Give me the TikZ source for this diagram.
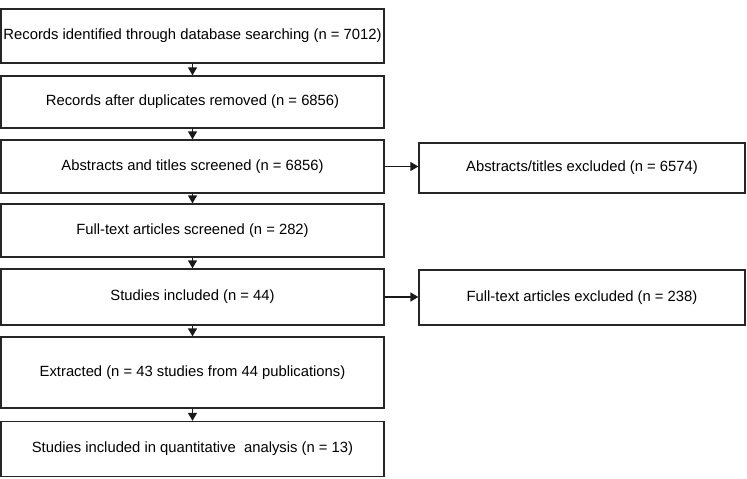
\documentclass[tikz,border=0pt]{standalone}
\usepackage{fontspec}
\setmainfont{Liberation Sans}
\usetikzlibrary{arrows.meta}
\begin{document}
\begin{tikzpicture}[x=1pt,y=-1pt,
  box/.style={draw=black!85, line width=1.3pt, rectangle, inner sep=0pt, font=\fontsize{14.8}{17}\selectfont},
  lbox/.style={box, minimum width=383pt},
  rbox/.style={box, minimum width=326pt},
  arr/.style={draw=black!90, line width=1.3pt, -{Triangle[length=8pt,width=9pt]}}]
\useasboundingbox (0,0) rectangle (747,479);
\node[lbox, minimum height=54pt] (b1) at (192.5,36) {Records identified through database searching (n = 7012)};
\node[lbox, minimum height=52pt] (b2) at (192.5,102) {Records after duplicates removed (n = 6856)};
\node[lbox, minimum height=53pt] (b3) at (192.5,166.5) {Abstracts and titles screened (n = 6856)};
\node[lbox, minimum height=53pt] (b4) at (192.5,230.5) {Full-text articles screened (n = 282)};
\node[lbox, minimum height=56pt] (b5) at (192.5,297) {Studies included (n = 44)};
\node[lbox, minimum height=71pt] (b6) at (192.5,372.5) {Extracted (n = 43 studies from 44 publications)};
\node[lbox, minimum height=55pt] (b7) at (192.5,449) {Studies included in quantitative\ \ analysis (n = 13)};
\node[rbox, minimum height=50pt] (r1) at (582,168) {Abstracts/titles excluded (n = 6574)};
\node[rbox, minimum height=55pt] (r2) at (582,297.5) {Full-text articles excluded (n = 238)};
\draw[arr] (b1) -- (b2);
\draw[arr] (b2) -- (b3);
\draw[arr] (b3) -- (b4);
\draw[arr] (b4) -- (b5);
\draw[arr] (b5) -- (b6);
\draw[arr] (b6) -- (b7);
\draw[arr] (b3.east) -- (b3.east -| r1.west);
\draw[arr] (b5.east) -- (b5.east -| r2.west);
\end{tikzpicture}
\end{document}
